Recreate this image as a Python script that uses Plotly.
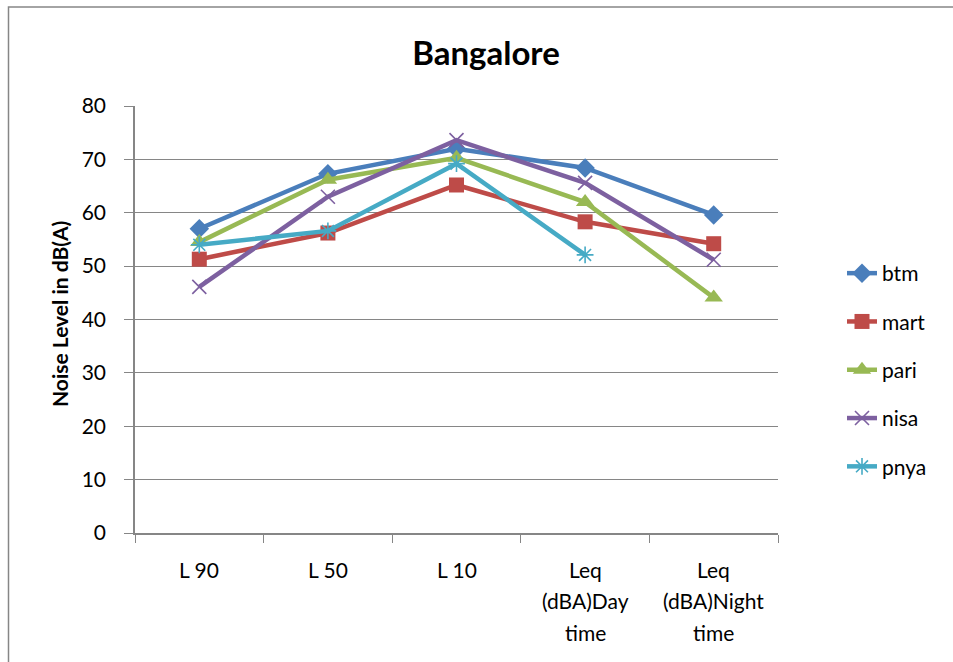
import plotly.graph_objects as go

# Noise level measurements for Bangalore sites
categories = ["L 90", "L 50", "L 10", "Leq<br>(dBA)Day<br>time", "Leq<br>(dBA)Night<br>time"]
btm = [57.0, 67.3, 72.0, 68.4, 59.6]
mart = [51.3, 56.2, 65.2, 58.3, 54.2]
pari = [54.5, 66.2, 70.3, 62.0, 44.1]
nisa = [46.1, 63.0, 73.6, 65.6, 51.2]
pnya = [54.0, 56.6, 69.2, 52.1, None]
y_ticks = [0, 10, 20, 30, 40, 50, 60, 70, 80]

FONT = "Lato, Calibri, 'Open Sans', sans-serif"
GRID = "#868686"
FS = 21

series = [
    ("btm", btm, "#4A7EBB", dict(symbol="diamond", size=15)),
    ("mart", mart, "#BE4B48", dict(symbol="square", size=15)),
    ("pari", pari, "#98B954", dict(symbol="triangle-up", size=16)),
    ("nisa", nisa, "#7D60A0", dict(symbol="x-thin-open", size=14, line=dict(width=1.6))),
    ("pnya", pnya, "#46AAC5", dict(symbol="asterisk-open", size=14, line=dict(width=1.6))),
]

xpos = list(range(len(categories)))

fig = go.Figure()
for i, (name, vals, color, mk) in enumerate(series):
    marker = dict(color=color, **mk)
    if "line" in mk:
        marker["line"] = dict(color=color, width=mk["line"]["width"])
    fig.add_trace(go.Scatter(
        x=xpos, y=vals, name=name, mode="lines+markers",
        line=dict(color=color, width=4.5),
        marker=marker, legendgroup=name, connectgaps=False,
    ))

# Category labels below the axis, one line at a time
annotations = []
for i, lab in enumerate(categories):
    for j, line in enumerate(lab.split("<br>")):
        annotations.append(dict(
            x=i, y=0, xref="x", yref="paper", text=line, showarrow=False,
            yshift=-36 - 31.5 * j, yanchor="middle", xanchor="center",
            font=dict(family=FONT, size=FS, color="#000000"),
        ))

# Rotated y-axis title
annotations.append(dict(
    x=(59 - 135) / 643, y=(533 - 314) / 427, xref="paper", yref="paper",
    text="<b>Noise Level in dB(A)</b>", textangle=-90, showarrow=False,
    xanchor="center", yanchor="middle",
    font=dict(family=FONT, size=FS, color="#000000"),
))

fig.update_layout(
    width=953, height=662,
    margin=dict(l=135, r=175, t=106, b=129),
    paper_bgcolor="white", plot_bgcolor="white",
    title=dict(text="<b>Bangalore</b>", xref="container", yref="container",
               x=486 / 953, y=1 - 53 / 662, xanchor="center", yanchor="middle",
               font=dict(family=FONT, size=33, color="#000000")),
    xaxis=dict(range=[-0.5, 4.5], tickvals=[-0.5, 0.5, 1.5, 2.5, 3.5, 4.5],
               ticktext=[""] * 6, ticks="outside", ticklen=8, tickcolor=GRID,
               showline=True, linecolor=GRID, linewidth=1.5, showgrid=False,
               zeroline=False, fixedrange=True),
    yaxis=dict(range=[0, 80], tickvals=y_ticks, ticks="outside", ticklen=9,
               tickcolor=GRID, showline=True, linecolor=GRID, linewidth=1.5,
               showgrid=True, gridcolor=GRID, gridwidth=1, zeroline=False,
               ticklabelstandoff=14,
               tickfont=dict(family=FONT, size=FS, color="#000000")),
    legend=dict(x=(842 - 135) / 643, y=(533 - 370) / 427, xanchor="left",
                yanchor="middle", traceorder="grouped", tracegroupgap=18,
                font=dict(family=FONT, size=FS, color="#000000"),
                bgcolor="rgba(0,0,0,0)"),
    annotations=annotations,
    shapes=[dict(type="rect", xref="paper", yref="paper",
                 x0=(8.5 - 135) / 643, x1=1.5, y0=-0.5, y1=(533 - 7) / 427,
                 line=dict(color=GRID, width=1.5), layer="below")],
    showlegend=True,
)

fig.write_html("out.html")
